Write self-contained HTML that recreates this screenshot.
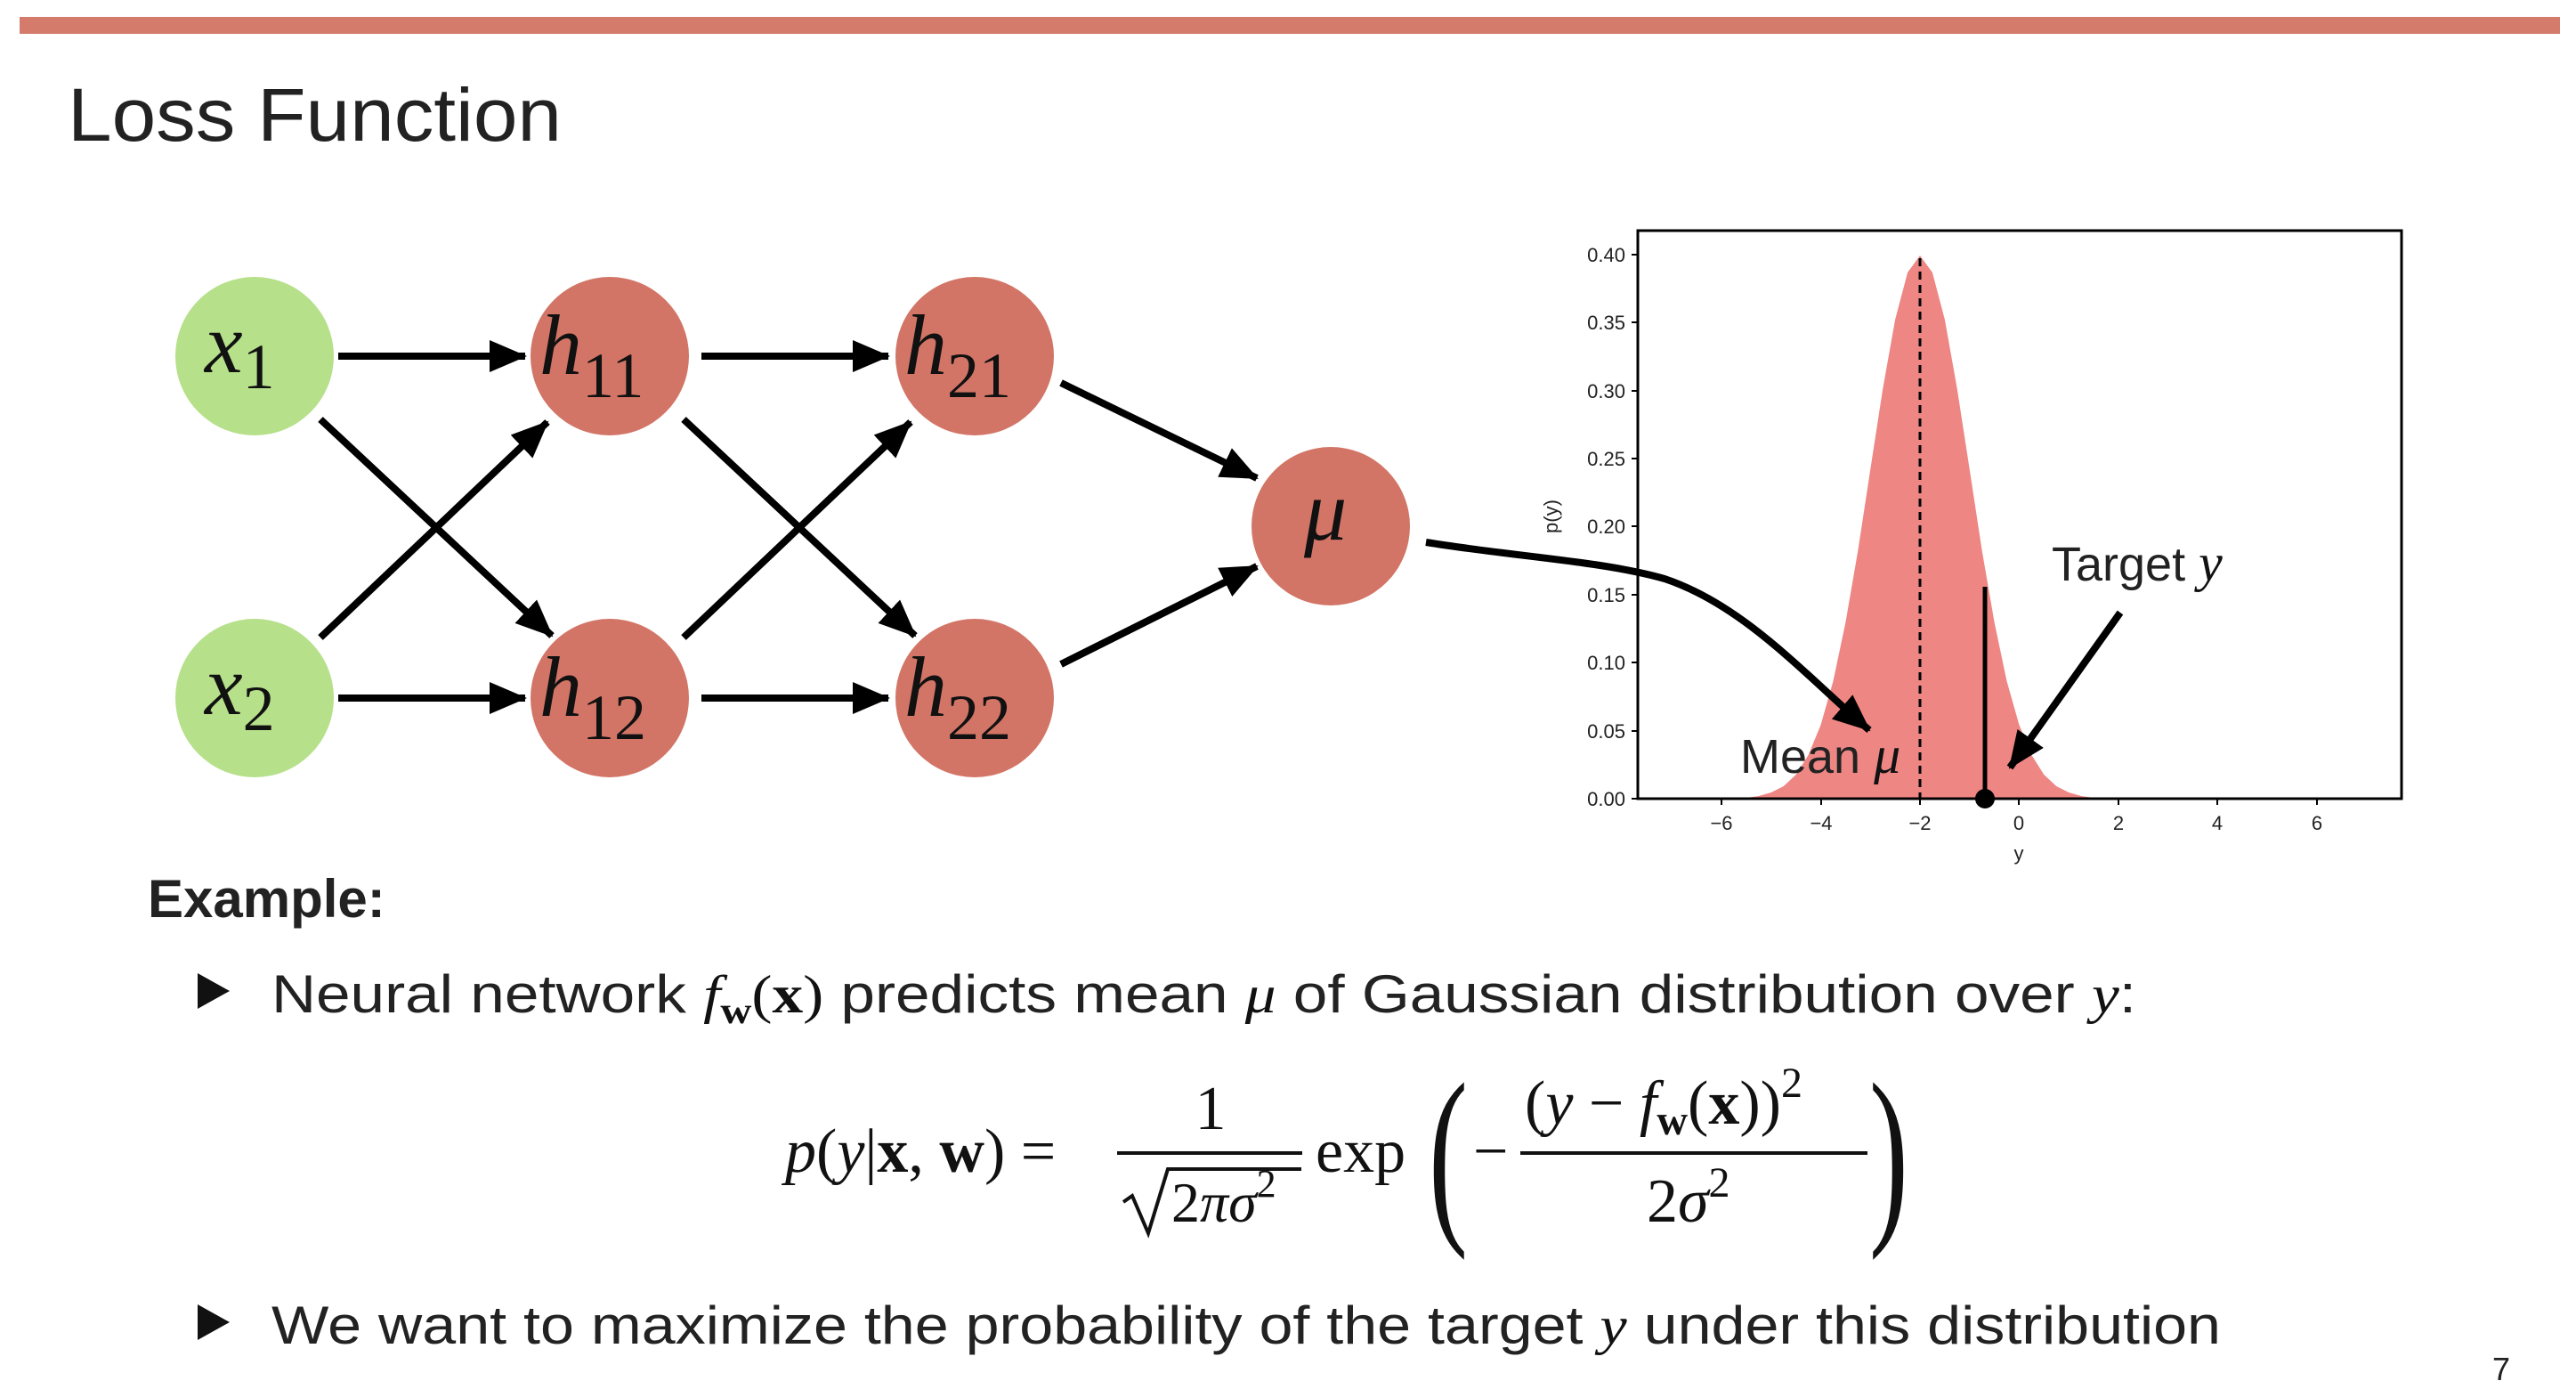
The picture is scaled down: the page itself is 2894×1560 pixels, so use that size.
<!DOCTYPE html>
<html><head><meta charset="utf-8"><style>
html,body{margin:0;padding:0;background:#fff;}
svg{display:block}
.m{font-family:"Liberation Serif",serif;font-style:italic;fill:#111}
.r{font-family:"Liberation Serif",serif;fill:#111}
.t{font-family:"Liberation Sans",sans-serif;fill:#222}
.tk{font-family:"Liberation Sans",sans-serif;font-size:22px;fill:#222}
</style></head><body>
<svg width="2894" height="1560" viewBox="0 0 2894 1560" xmlns="http://www.w3.org/2000/svg">
<defs>
<marker id="ah" markerUnits="userSpaceOnUse" markerWidth="44" markerHeight="36" refX="40" refY="18" orient="auto">
<path d="M0,0 L42,18 L0,36 Z" fill="#000"/></marker>
</defs>
<rect x="22" y="19" width="2854" height="19" fill="#d47b6b"/>
<text x="76" y="158" class="t" font-size="84" fill="#222" textLength="555" lengthAdjust="spacingAndGlyphs">Loss Function</text>

<g stroke="#000" stroke-width="8" fill="none" marker-end="url(#ah)">
<line x1="380" y1="400" x2="590" y2="400"/>
<line x1="380" y1="784" x2="590" y2="784"/>
<line x1="788" y1="400" x2="998" y2="400"/>
<line x1="788" y1="784" x2="998" y2="784"/>
<line x1="360" y1="471" x2="620" y2="714"/>
<line x1="360" y1="716" x2="615" y2="474"/>
<line x1="768" y1="471" x2="1028" y2="714"/>
<line x1="768" y1="716" x2="1023" y2="474"/>
<line x1="1192" y1="430" x2="1412" y2="537"/>
<line x1="1192" y1="746" x2="1412" y2="636"/>
</g>
<g>
<circle cx="286" cy="400" r="89" fill="#b6e08a"/>
<circle cx="286" cy="784" r="89" fill="#b6e08a"/>
<circle cx="685" cy="400" r="89" fill="#d27566"/>
<circle cx="685" cy="784" r="89" fill="#d27566"/>
<circle cx="1095" cy="400" r="89" fill="#d27566"/>
<circle cx="1095" cy="784" r="89" fill="#d27566"/>
<circle cx="1495" cy="591" r="89" fill="#d27566"/>
</g>
<g class="m" font-size="96">
<text x="230" y="418">x<tspan class="r" font-style="normal" font-size="72" dy="18">1</tspan></text>
<text x="230" y="802">x<tspan class="r" font-style="normal" font-size="72" dy="18">2</tspan></text>
<text x="606" y="420">h<tspan class="r" font-style="normal" font-size="72" dy="26">11</tspan></text>
<text x="606" y="804">h<tspan class="r" font-style="normal" font-size="72" dy="26">12</tspan></text>
<text x="1016" y="420">h<tspan class="r" font-style="normal" font-size="72" dy="26">21</tspan></text>
<text x="1016" y="804">h<tspan class="r" font-style="normal" font-size="72" dy="26">22</tspan></text>
<text x="1465" y="606">μ</text>
</g>

<path fill="#ee8683" d="M1934.1,897 L1948,896 L1962,896 L1975.9,894 L1989.8,890 L2003.8,883 L2017.7,870 L2031.6,848 L2045.6,814 L2059.5,765 L2073.4,699 L2087.4,618 L2101.3,527 L2115.2,437 L2129.1,359 L2143.1,306 L2157,287 L2170.9,306 L2184.9,359 L2198.8,437 L2212.7,527 L2226.6,618 L2240.6,699 L2254.5,765 L2268.4,814 L2282.4,848 L2296.3,870 L2310.2,883 L2324.2,890 L2338.1,894 L2352,896 L2366,896 L2379.9,897 Z"/>
<line x1="2157" y1="290" x2="2157" y2="897" stroke="#000" stroke-width="3" stroke-dasharray="9,6"/>
<rect x="1840" y="259" width="858" height="638" fill="none" stroke="#000" stroke-width="3"/>
<g stroke="#000" stroke-width="2">
<line x1="1833" y1="897" x2="1840" y2="897"/><line x1="1833" y1="821" x2="1840" y2="821"/>
<line x1="1833" y1="744" x2="1840" y2="744"/><line x1="1833" y1="668" x2="1840" y2="668"/>
<line x1="1833" y1="591" x2="1840" y2="591"/><line x1="1833" y1="515" x2="1840" y2="515"/>
<line x1="1833" y1="439" x2="1840" y2="439"/><line x1="1833" y1="362" x2="1840" y2="362"/>
<line x1="1833" y1="286" x2="1840" y2="286"/>
<line x1="1934" y1="897" x2="1934" y2="904"/><line x1="2046" y1="897" x2="2046" y2="904"/>
<line x1="2157" y1="897" x2="2157" y2="904"/><line x1="2268" y1="897" x2="2268" y2="904"/>
<line x1="2380" y1="897" x2="2380" y2="904"/><line x1="2491" y1="897" x2="2491" y2="904"/>
<line x1="2603" y1="897" x2="2603" y2="904"/>
</g>
<g class="tk" text-anchor="end">
<text x="1826" y="905">0.00</text><text x="1826" y="829">0.05</text><text x="1826" y="752">0.10</text>
<text x="1826" y="676">0.15</text><text x="1826" y="599">0.20</text><text x="1826" y="523">0.25</text>
<text x="1826" y="447">0.30</text><text x="1826" y="370">0.35</text><text x="1826" y="294">0.40</text>
</g>
<g class="tk" text-anchor="middle">
<text x="1934" y="932">−6</text><text x="2046" y="932">−4</text><text x="2157" y="932">−2</text>
<text x="2268" y="932">0</text><text x="2380" y="932">2</text><text x="2491" y="932">4</text>
<text x="2603" y="932">6</text>
<text x="2268" y="966">y</text>
<text transform="translate(1750,580) rotate(-90)">p(y)</text>
</g>
<line x1="2230" y1="659" x2="2230" y2="897" stroke="#000" stroke-width="5"/>
<circle cx="2230" cy="897" r="11" fill="#000"/>
<path d="M1602,609 C1700,625 1800,630 1870,650 C1960,680 2030,760 2100,820" stroke="#000" stroke-width="8" fill="none" marker-end="url(#ah)"/>
<line x1="2382" y1="688" x2="2258" y2="862" stroke="#000" stroke-width="8" marker-end="url(#ah)"/>
<text x="1955" y="868" class="t" font-size="54" fill="#111">Mean <tspan class="m" font-size="60">μ</tspan></text>
<text x="2305" y="652" class="t" font-size="54" fill="#111">Target <tspan class="m" font-size="60">y</tspan></text>

<text x="166" y="1030" class="t" font-size="60" font-weight="bold" fill="#111">Example:</text>
<path d="M222,1093 L258,1113 L222,1133 Z" fill="#111"/>
<text x="305" y="1137" class="t" font-size="60" fill="#333" textLength="2095" lengthAdjust="spacingAndGlyphs">Neural network <tspan class="m" fill="#111">f</tspan><tspan class="r" font-weight="bold" font-size="42" dy="12">w</tspan><tspan class="r" dy="-12">(</tspan><tspan class="r" font-weight="bold">x</tspan><tspan class="r">)</tspan> predicts mean <tspan class="m">μ</tspan> of Gaussian distribution over <tspan class="m">y</tspan>:</text>
<path d="M222,1465 L258,1485 L222,1505 Z" fill="#111"/>
<text x="305" y="1509" class="t" font-size="60" fill="#333" textLength="2190" lengthAdjust="spacingAndGlyphs">We want to maximize the probability of the target <tspan class="m">y</tspan> under this distribution</text>
<text x="2800" y="1550" class="t" font-size="36" fill="#444">7</text>

<g font-size="70">
<text x="882" y="1316" class="r"><tspan class="m">p</tspan>(<tspan class="m">y</tspan>|<tspan font-weight="bold">x</tspan>, <tspan font-weight="bold">w</tspan>) =</text>
<text x="1360" y="1268" class="r" text-anchor="middle">1</text>
<line x1="1255" y1="1295" x2="1463" y2="1295" stroke="#111" stroke-width="4"/>
<path d="M1262,1350 L1272,1343 L1290,1385 L1312,1313 L1462,1313" stroke="#111" stroke-width="4" fill="none"/>
<text x="1316" y="1372" class="r" font-size="64">2<tspan class="m">πσ</tspan><tspan font-size="44" dy="-28">2</tspan></text>
<text x="1478" y="1316" class="r">exp</text>
<text x="0" y="1368" class="r" font-size="220" transform="translate(1605,0) scale(0.6,1)">(</text>
<text x="0" y="1368" class="r" font-size="220" transform="translate(2100,0) scale(0.6,1)">)</text>
<text x="1655" y="1316" class="r">−</text>
<text x="1713" y="1262" class="r">(<tspan class="m">y</tspan> − <tspan class="m">f</tspan><tspan font-weight="bold" font-size="48" dy="12">w</tspan><tspan dy="-12">(</tspan><tspan font-weight="bold">x</tspan>))<tspan font-size="48" dy="-30">2</tspan></text>
<line x1="1708" y1="1295" x2="2098" y2="1295" stroke="#111" stroke-width="4"/>
<text x="1850" y="1372" class="r">2<tspan class="m">σ</tspan><tspan font-size="48" dy="-28">2</tspan></text>
</g>
</svg>
</body></html>
